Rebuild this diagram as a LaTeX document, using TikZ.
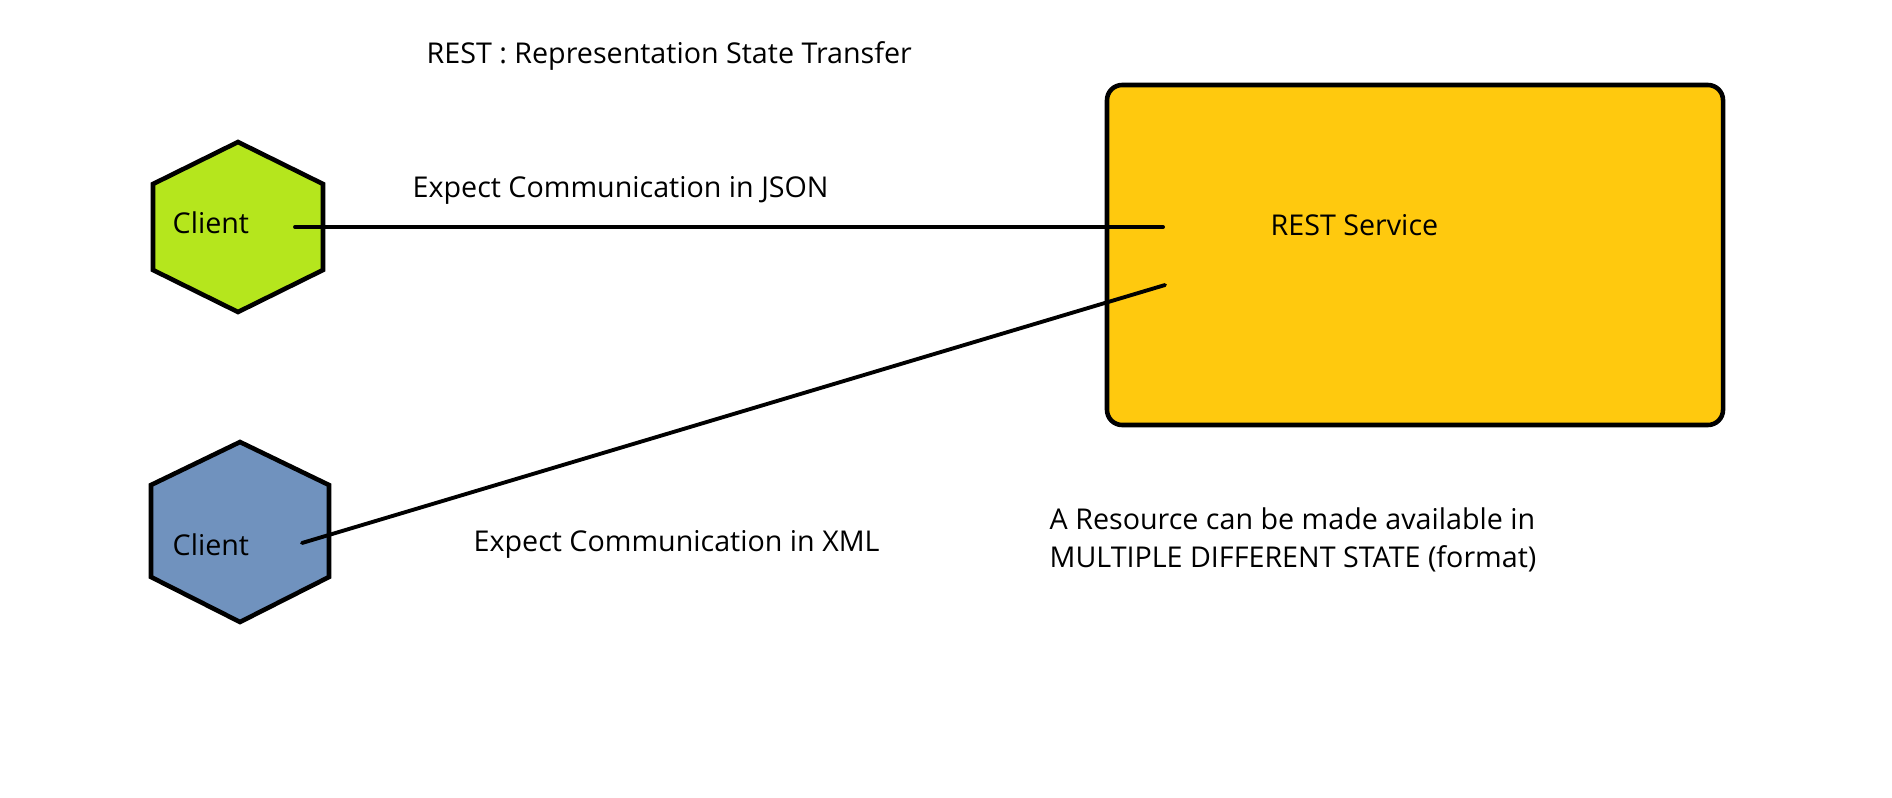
\documentclass[tikz,border=0pt]{standalone}
\usepackage{fontspec}
\setmainfont{Open Sans}
\definecolor{clientgreen}{HTML}{B5E61D}
\definecolor{clientblue}{HTML}{7092BE}
\definecolor{servicegold}{HTML}{FFC90E}
\begin{document}
\begin{tikzpicture}[x=0.01cm,y=-0.01cm,
  every node/.style={font=\fontsize{8.15}{10}\selectfont,inner sep=0pt,anchor=base west},
  hexa/.style={draw=black,line width=1.3pt,line join=miter},
  wire/.style={draw=black,line width=1.1pt,line cap=round}]
\useasboundingbox (0,0) rectangle (1892,797);
% title
\node (title) at (426,64) {REST : Representation State Transfer};
% client one
\filldraw[hexa,fill=clientgreen] (238,142) -- (323,184) -- (323,270) -- (238,312) -- (153,270) -- (153,184) -- cycle;
\node (clientA) at (172,233) {Client};
% client two
\filldraw[hexa,fill=clientblue] (240,442) -- (329,485) -- (329,577) -- (240,622) -- (151,577) -- (151,485) -- cycle;
\node (clientB) at (172,555) {Client};
% service
\filldraw[hexa,fill=servicegold,rounded corners=4.3pt] (1107,85) rectangle (1723,425);
\node (service) at (1270,235) {REST Service};
% links
\coordinate (jsonA) at (295,227);
\coordinate (jsonB) at (1163,227);
\coordinate (xmlA) at (302,543);
\coordinate (xmlB) at (1165,285);
\draw[wire] (jsonA) -- (jsonB);
\draw[wire] (xmlA) -- (xmlB);
\node (json) at (412,197) {Expect Communication in JSON};
\node (xml) at (473,551) {Expect Communication in XML};
% note
\node (noteA) at (1049,529) {A Resource can be made available in};
\node (noteB) at (1049,567) {MULTIPLE DIFFERENT STATE (format)};
\end{tikzpicture}
\end{document}
